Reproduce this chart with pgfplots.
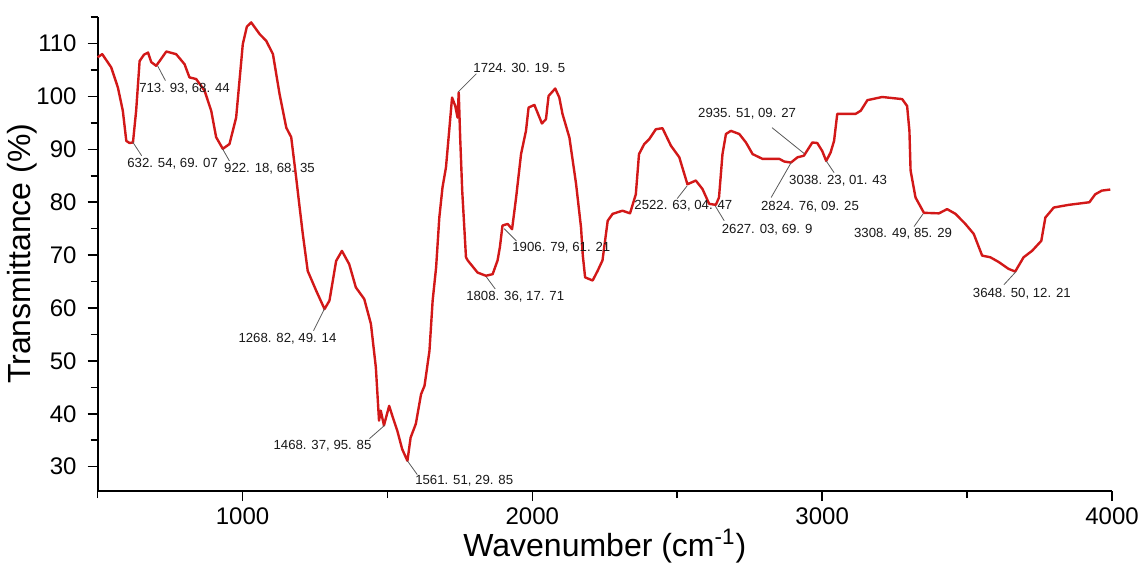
\documentclass[border=0pt]{standalone}
\usepackage{pgfplots}
\pgfplotsset{compat=1.18}
\usepackage{fontspec}
\setmainfont{Liberation Sans}

\definecolor{specred}{RGB}{210,24,24}

\begin{document}
\begin{tikzpicture}
\useasboundingbox (-48.8pt,-36pt) rectangle (522.7pt,245.5pt);
\begin{axis}[
  at={(0,0)}, anchor=south west,
  scale only axis,
  width=507.2pt, height=237.2pt,
  xmin=500, xmax=4000,
  ymin=25.4, ymax=115.1,
  axis lines=left,
  axis line style={-, line width=1pt},
  xtick={1000,2000,3000,4000},
  minor xtick={500,1500,2500,3500},
  ytick={30,40,...,110},
  minor ytick={35,45,...,115},
  tick align=outside,
  major tick length=5pt,
  minor tick length=3.5pt,
  every tick/.style={black, line width=0.8pt},
  tick label style={font=\fontsize{12}{14}\selectfont},
  yticklabel style={xshift=-2pt},
  /pgf/number format/assume math mode=true,
  /pgf/number format/1000 sep={},
  xlabel={Wavenumber (cm\textsuperscript{-1})},
  ylabel={Transmittance (\%)},
  label style={font=\fontsize{16}{18}\selectfont},
  xlabel style={yshift=5pt},
  ylabel style={yshift=-7pt},
  clip=false,
]
\addplot[specred, line width=1.2pt, line join=round] coordinates {
(500,107.4) (516,108.0) (547,105.5) (570,101.7) (587,97.3) (599,91.6)
(610,91.2) (622,91.3) (633,97.3) (645,106.7) (660,107.9) (674,108.3)
(685,106.5) (702,105.8) (714,106.7) (737,108.5) (771,108.0) (800,106.1)
(817,103.6) (840,103.3) (869,101.1) (892,97.3) (909,92.3) (932,90.1)
(955,91.0) (978,96.0) (1001,109.9) (1015,113.2) (1030,114.0) (1059,111.8)
(1082,110.5) (1105,108.0) (1128,100.4) (1151,94.1) (1168,92.3) (1185,84.7)
(1195,80.0) (1208,74.0) (1225,67.0) (1254,63.3) (1283,59.8) (1300,61.4)
(1323,68.9) (1343,70.8) (1368,68.3) (1391,63.9) (1420,61.7) (1443,57.0)
(1460,48.8) (1471,38.7) (1477,40.6) (1488,37.8) (1506,41.5) (1517,39.6)
(1534,36.8) (1551,33.3) (1569,31.1) (1580,35.5) (1598,38.1) (1616,43.7)
(1628,45.3) (1645,51.9) (1656,61.4) (1668,67.7) (1679,77.1) (1690,82.8)
(1702,86.6) (1714,94.1) (1723,99.8) (1734,98.2) (1742,96.0) (1746,100.8)
(1751,92.2) (1758,82.2) (1771,69.6) (1777,69.0) (1811,66.7) (1840,66.1)
(1863,66.4) (1880,69.0) (1888,71.5) (1897,75.6) (1915,75.9) (1930,74.9)
(1944,80.9) (1961,89.1) (1978,93.5) (1987,97.9) (2007,98.4) (2033,94.9)
(2047,95.7) (2056,100.1) (2079,101.5) (2093,99.8) (2104,96.7) (2128,92.2)
(2151,83.4) (2168,75.2) (2174,70.0) (2182,65.8) (2208,65.2) (2225,67.0)
(2242,69.0) (2260,76.5) (2277,77.8) (2311,78.4) (2337,77.9) (2357,81.5)
(2368,89.1) (2386,91.0) (2403,91.9) (2426,93.8) (2449,94.0) (2478,90.7)
(2507,88.5) (2535,83.4) (2564,84.1) (2587,82.5) (2610,79.7) (2633,79.5)
(2644,80.9) (2656,89.1) (2668,92.9) (2685,93.5) (2714,92.9) (2737,91.3)
(2760,89.1) (2794,88.2) (2852,88.2) (2869,87.7) (2892,87.5) (2915,88.5)
(2937,88.8) (2966,91.3) (2983,91.2) (3000,89.7) (3014,87.8) (3029,89.4)
(3041,91.6) (3052,96.7) (3069,96.7) (3115,96.7) (3133,97.3) (3156,99.3)
(3207,99.9) (3276,99.5) (3293,98.2) (3301,93.5) (3305,86.0) (3322,80.9)
(3351,78.0) (3403,77.9) (3431,78.7) (3460,77.8) (3494,75.9) (3523,74.0)
(3552,69.9) (3580,69.6) (3609,68.7) (3643,67.4) (3666,66.9) (3695,69.6)
(3724,70.8) (3756,72.7) (3770,77.1) (3799,79.0) (3850,79.5) (3922,80.0)
(3942,81.5) (3965,82.2) (3994,82.4)
};
% leader lines
\addplot[gray!70!black, thin] coordinates {(707,105.8) (734,103.0)};
\addplot[gray!70!black, thin] coordinates {(621,91.4) (652,88.8)};
\addplot[gray!70!black, thin] coordinates {(931,90.1) (955,87.8)};
\addplot[gray!70!black, thin] coordinates {(1745,100.9) (1807,104.3)};
\addplot[gray!70!black, thin] coordinates {(1903,75.0) (1945,72.7)};
\addplot[gray!70!black, thin] coordinates {(1841,65.9) (1872,63.6)};
\addplot[gray!70!black, thin] coordinates {(1283,59.9) (1245,55.7)};
\addplot[gray!70!black, thin] coordinates {(1490,37.8) (1438,35.3)};
\addplot[gray!70!black, thin] coordinates {(1569,31.1) (1603,28.5)};
\addplot[gray!70!black, thin] coordinates {(2534,83.1) (2500,80.7)};
\addplot[gray!70!black, thin] coordinates {(2631,79.3) (2662,76.5)};
\addplot[gray!70!black, thin] coordinates {(2827,94.1) (2938,89.2)};
\addplot[gray!70!black, thin] coordinates {(2824,80.9) (2893,87.5)};
\addplot[gray!70!black, thin] coordinates {(3014,87.8) (3041,85.6)};
\addplot[gray!70!black, thin] coordinates {(3348,77.8) (3317,75.4)};
\addplot[gray!70!black, thin] coordinates {(3669,66.9) (3627,64.4)};
% peak labels
\begin{scope}[every node/.style={font=\fontsize{6.6}{8}\selectfont, text=black!90, inner sep=0pt}]
\node at (axis cs:800,101.5) {713. 93, 68. 44};
\node at (axis cs:759,87.3) {632. 54, 69. 07};
\node at (axis cs:1093,86.3) {922. 18, 68. 35};
\node at (axis cs:1955,105.4) {1724. 30. 19. 5};
\node at (axis cs:2100,71.4) {1906. 79, 61. 21};
\node at (axis cs:1941,62.1) {1808. 36, 17. 71};
\node at (axis cs:1155,54.2) {1268. 82, 49. 14};
\node at (axis cs:1276,34.0) {1468. 37, 95. 85};
\node at (axis cs:1765,27.4) {1561. 51, 29. 85};
\node at (axis cs:2521,79.3) {2522. 63, 04. 47};
\node at (axis cs:2810,74.8) {2627. 03, 69. 9};
\node at (axis cs:2741,96.7) {2935. 51, 09. 27};
\node at (axis cs:2958,79.1) {2824. 76, 09. 25};
\node at (axis cs:3055,84.1) {3038. 23, 01. 43};
\node at (axis cs:3279,74.0) {3308. 49, 85. 29};
\node at (axis cs:3689,62.7) {3648. 50, 12. 21};
\end{scope}
\end{axis}
\end{tikzpicture}
\end{document}
